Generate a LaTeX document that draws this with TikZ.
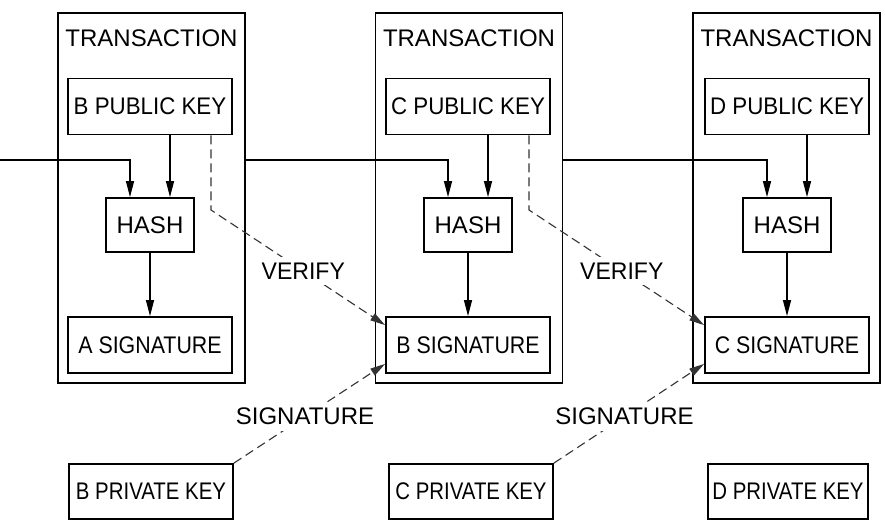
\documentclass[tikz,border=0pt]{standalone}
\usepackage{fontspec}
\setmainfont{Liberation Sans}
\usetikzlibrary{arrows.meta}
\newcommand{\sx}[2]{\scalebox{#1}[1]{#2}}
\begin{document}
\begin{tikzpicture}[x=1pt,y=-1pt,
  every node/.style={font=\fontsize{24}{28}\selectfont,text=black},
  txbox/.style={draw,line width=1.8pt,minimum width=187pt,minimum height=370pt,inner sep=0pt},
  kbox/.style={draw,line width=1.8pt,minimum width=164pt,minimum height=56pt,inner sep=0pt},
  hbox/.style={draw,line width=1.8pt,minimum width=88pt,minimum height=54pt,inner sep=0pt},
  arr/.style={line width=1.3pt,-{Triangle[length=16pt,width=8pt]}},
  dsh/.style={line width=1.1pt,dash pattern=on 9pt off 5pt,black!80,-{Triangle[length=15pt,width=8pt]}},
  lbl/.style={fill=white,inner sep=6pt}
]
\useasboundingbox (0,0) rectangle (885,531);

% transactions
\node[txbox] (tx1) at (151.5,198) {};
\node[txbox] (tx2) at (469,198) {};
\node[txbox] (tx3) at (786.5,198) {};
\node (t1) at (151.5,38.5) {TRANSACTION};
\node (t2) at (469,38.5) {TRANSACTION};
\node (t3) at (786.5,38.5) {TRANSACTION};

% public keys
\node[kbox] (pub1) at (150,106.5) {\sx{0.93}{B PUBLIC KEY}};
\node[kbox] (pub2) at (468,106.5) {\sx{0.93}{C PUBLIC KEY}};
\node[kbox] (pub3) at (787,106.5) {\sx{0.93}{D PUBLIC KEY}};

% hashes
\node[hbox] (hash1) at (150,225) {HASH};
\node[hbox] (hash2) at (468,225) {HASH};
\node[hbox] (hash3) at (787,225) {HASH};

% signatures
\node[kbox] (sig1) at (150,345) {\sx{0.89}{A SIGNATURE}};
\node[kbox] (sig2) at (468,345) {\sx{0.89}{B SIGNATURE}};
\node[kbox] (sig3) at (787,345) {\sx{0.89}{C SIGNATURE}};

% private keys
\node[kbox,minimum height=55pt] (priv1) at (151,491.5) {\sx{0.85}{B PRIVATE KEY}};
\node[kbox,minimum height=55pt] (priv2) at (471,491.5) {\sx{0.85}{C PRIVATE KEY}};
\node[kbox,minimum height=55pt,minimum width=160pt] (priv3) at (788,491.5) {\sx{0.85}{D PRIVATE KEY}};

% inner arrows
\foreach \i in {1,2,3}{
  \draw[arr] ([xshift=20pt]pub\i.south) -- ([xshift=20pt]hash\i.north);
  \draw[arr] (hash\i) -- (sig\i);
}

% chain lines
\coordinate (in0) at (0,160);
\draw[arr] (in0) -| ([xshift=-20pt]hash1.north);
\draw[arr] (tx1.east |- in0) -| ([xshift=-20pt]hash2.north);
\draw[arr] (tx2.east |- in0) -| ([xshift=-20pt]hash3.north);

% verify
\coordinate (k1) at (211,210);
\coordinate (k2) at (529,210);
\draw[dsh] ([xshift=61pt]pub1.south) -- (k1) -- node[lbl,pos=0.53]{\sx{0.96}{VERIFY}} ([yshift=-9pt]sig2.north west);
\draw[dsh] ([xshift=61pt]pub2.south) -- (k2) -- node[lbl,pos=0.53]{\sx{0.96}{VERIFY}} ([yshift=-9pt]sig3.north west);

% signature
\draw[dsh] (priv1.north east) -- node[lbl,pos=0.47]{SIGNATURE} ([yshift=10pt]sig2.south west);
\draw[dsh] (priv2.north east) -- node[lbl,pos=0.47]{SIGNATURE} ([yshift=10pt]sig3.south west);
\end{tikzpicture}
\end{document}
